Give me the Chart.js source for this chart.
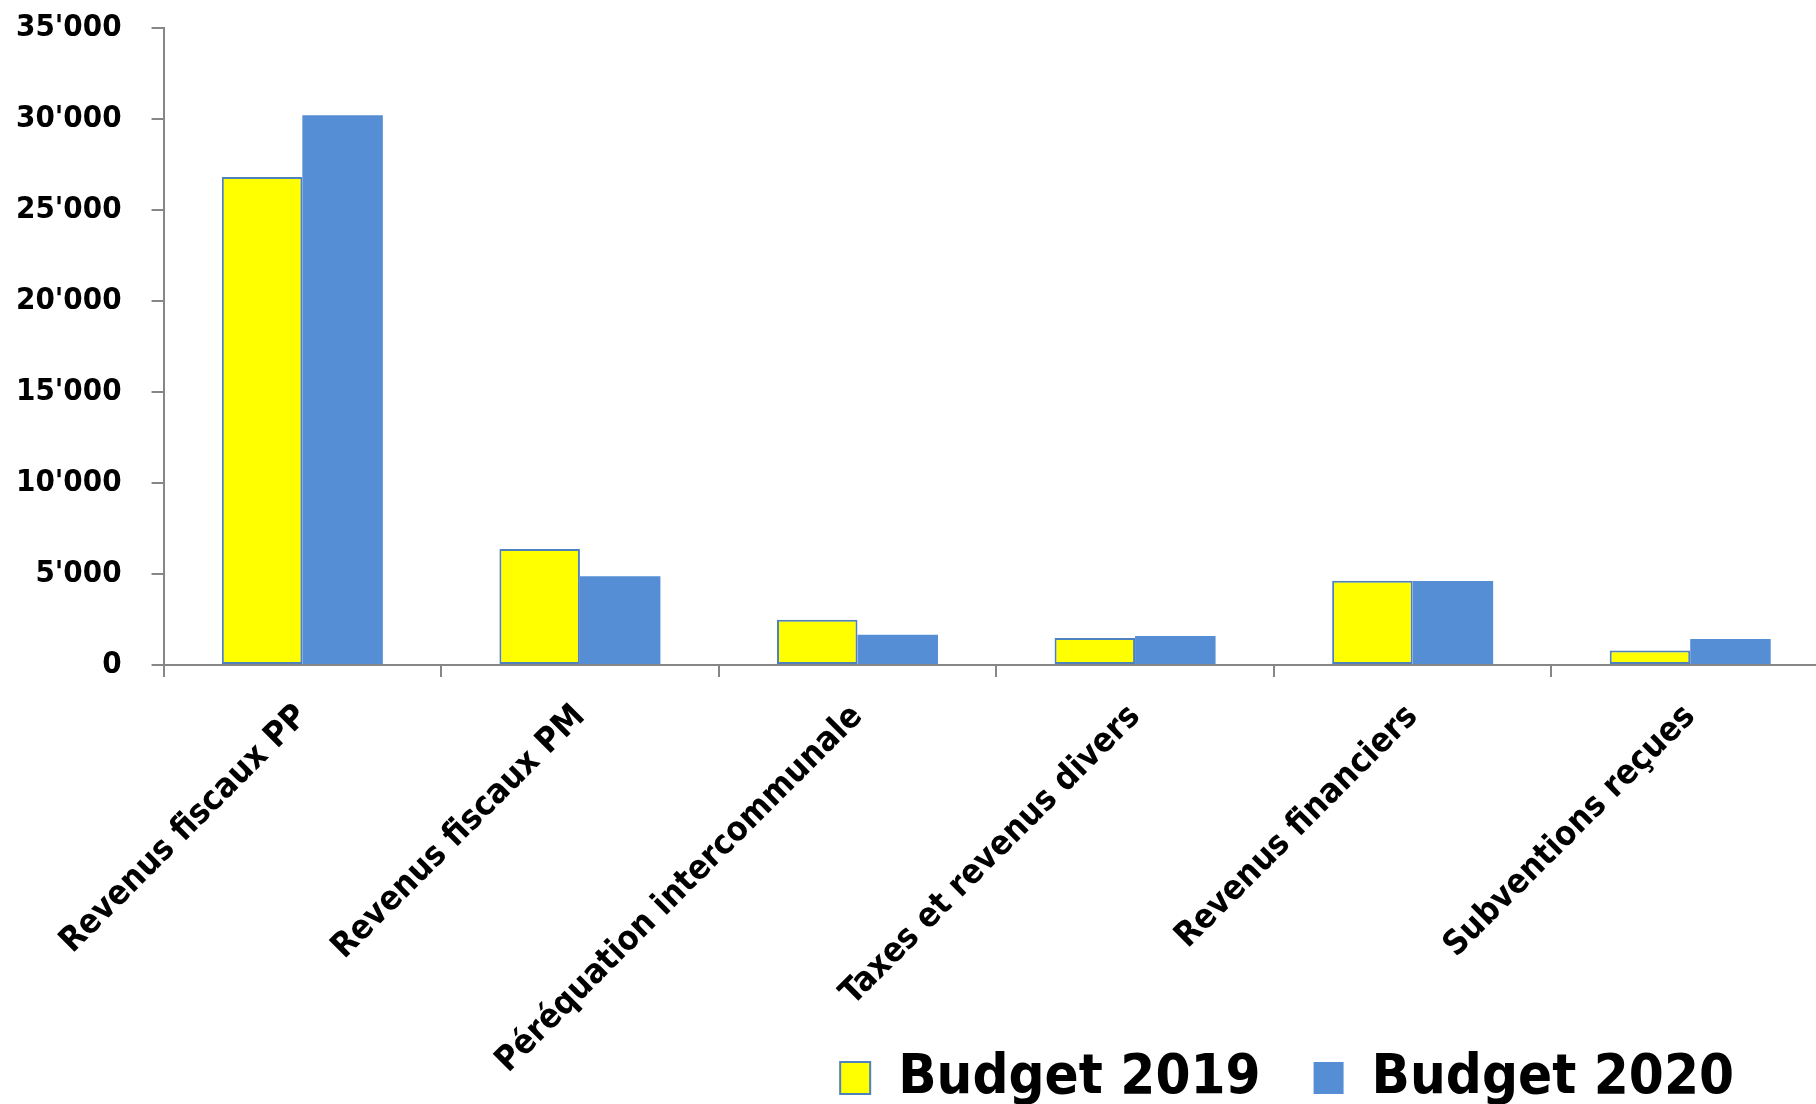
<!DOCTYPE html>
<html>
<head>
<meta charset="utf-8">
<script src="https://cdn.jsdelivr.net/npm/chart.js@4.4.1/dist/chart.umd.min.js"></script>
<style>
  html, body { margin: 0; padding: 0; background: #fff; overflow: hidden; }
  /* the original picture is cropped on the right, so the plot runs a bit past the window */
  #wrap { width: 1829px; height: 1104px; position: relative; }
</style>
</head>
<body>
<div id="wrap"><canvas id="budgetChart"></canvas></div>
<script>
const categories = [
    "Revenus fiscaux PP",
    "Revenus fiscaux PM",
    "Péréquation intercommunale",
    "Taxes et revenus divers",
    "Revenus financiers",
    "Subventions reçues"
];
const budget2019 = [26810, 6370, 2490, 1480, 4630, 790];
const budget2020 = [30200, 4870, 1660, 1590, 4610, 1430];
const yTickLabels = ["0", "5'000", "10'000", "15'000", "20'000", "25'000", "30'000", "35'000"];

const FONT = "'DejaVu Sans Condensed', 'DejaVu Sans', sans-serif";

// legend sits in the bottom-right corner, over the space of the rotated labels
const legendShift = {
    id: 'legendShift',
    afterLayout(chart) {
        const lg = chart.legend;
        lg.left -= 42;
        lg.right -= 42;
        lg.top += 12;
        lg.bottom += 12;
        // let the x labels run down to the bottom of the canvas
        chart.scales.x.bottom = chart.height;
    }
};

document.addEventListener("DOMContentLoaded", () => {
    const ctx = document.getElementById("budgetChart").getContext("2d");

    new Chart(ctx, {
        type: 'bar',
        data: {
            labels: categories,
            datasets: [{
                label: 'Budget 2019',
                data: budget2019,
                backgroundColor: '#FFFF00',
                borderColor: '#4F81BD',
                borderWidth: 2,
                borderSkipped: false,
                barPercentage: 1.0,
                categoryPercentage: 0.58
            }, {
                label: 'Budget 2020',
                data: budget2020,
                backgroundColor: '#558ED5',
                borderColor: '#558ED5',
                borderWidth: 0,
                barPercentage: 1.0,
                categoryPercentage: 0.58
            }]
        },
        plugins: [legendShift],
        options: {
            responsive: true,
            maintainAspectRatio: false,
            animation: false,
            layout: {
                padding: { top: 28, left: 16, right: 0, bottom: 0 }
            },
            plugins: {
                tooltip: { enabled: false },
                legend: {
                    position: 'bottom',
                    align: 'end',
                    labels: {
                        color: '#000',
                        font: { family: FONT, size: 56, weight: 'bold' },
                        boxWidth: 30,
                        boxHeight: 32,
                        padding: 53
                    }
                }
            },
            scales: {
                x: {
                    grid: {
                        drawOnChartArea: false,
                        drawTicks: true,
                        tickLength: 12,
                        color: '#868686',
                        lineWidth: 2
                    },
                    border: { color: '#868686', width: 2 },
                    ticks: {
                        color: '#000',
                        font: { family: FONT, size: 34, weight: 'bold' },
                        minRotation: 45,
                        maxRotation: 45,
                        autoSkip: false,
                        padding: 20
                    },
                    afterFit: (scale) => {
                        scale.height = 320;
                        scale.paddingLeft = 0;
                        scale.paddingRight = 0;
                    }
                },
                y: {
                    min: 0,
                    max: 35000,
                    grid: {
                        drawOnChartArea: false,
                        drawTicks: true,
                        tickLength: 12,
                        color: '#868686',
                        lineWidth: 2
                    },
                    border: { color: '#868686', width: 2 },
                    ticks: {
                        stepSize: 5000,
                        color: '#000',
                        font: { family: FONT, size: 31, weight: 'bold' },
                        padding: 30,
                        callback: (value, index) => yTickLabels[index]
                    },
                    afterFit: (scale) => {
                        // chart.js reserves the tick padding twice
                        scale.width -= 30;
                        scale.paddingTop = 0;
                        scale.paddingBottom = 0;
                    }
                }
            }
        }
    });
});
</script>
</body>
</html>
